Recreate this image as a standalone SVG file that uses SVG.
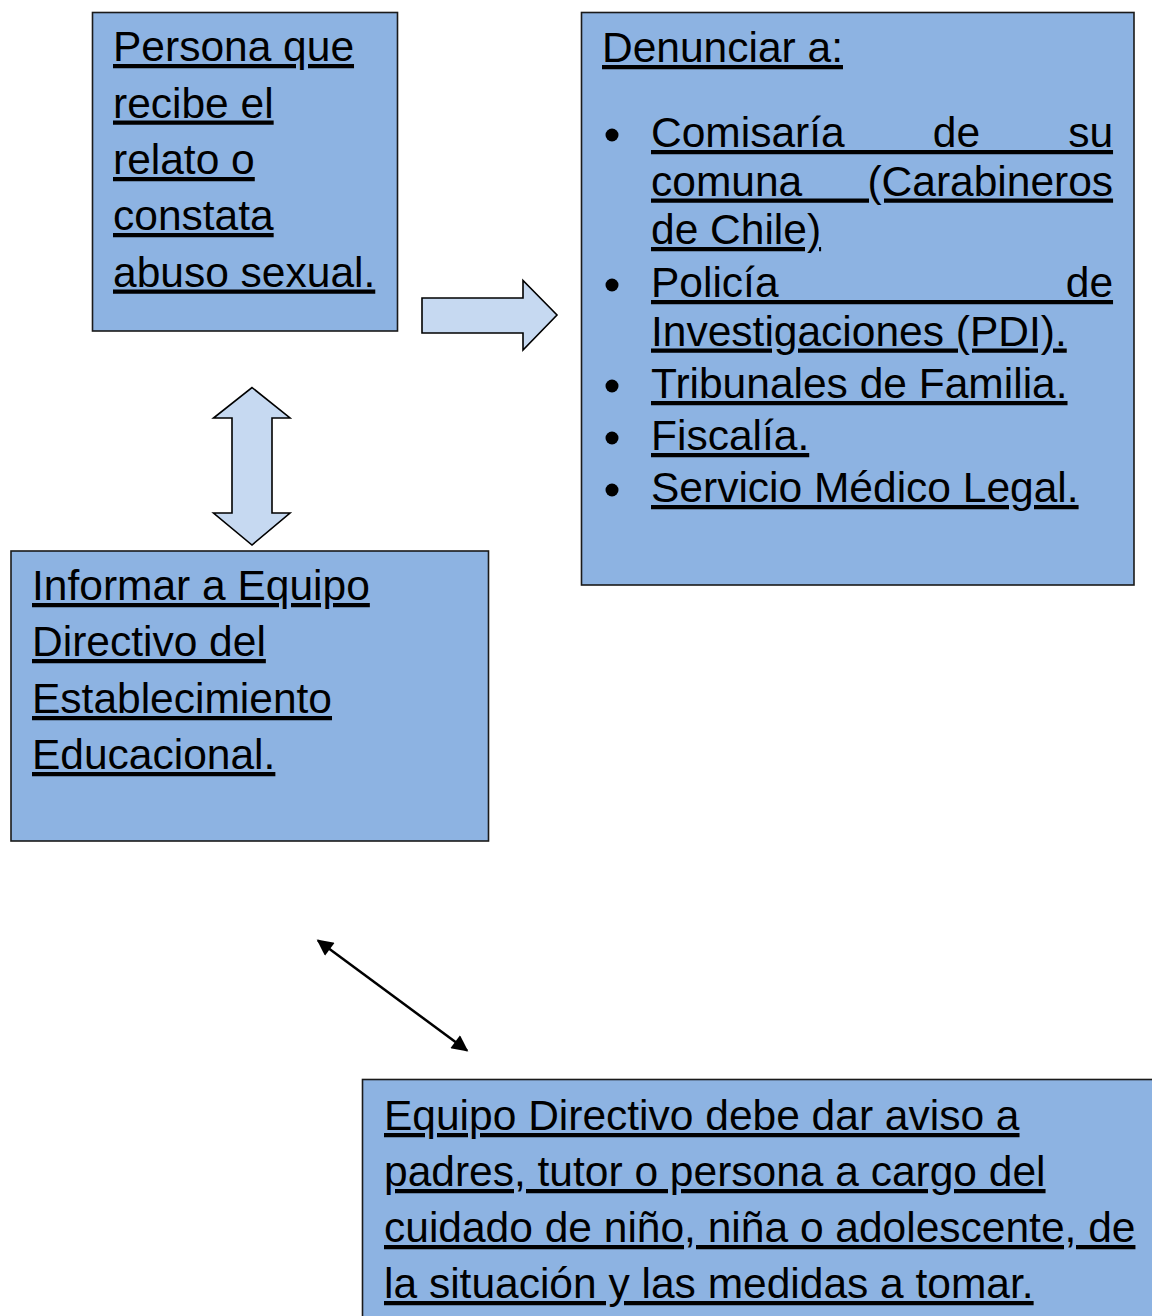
<svg xmlns="http://www.w3.org/2000/svg" width="1152" height="1316" viewBox="0 0 1152 1316">
<style>
  .box { fill: #8DB3E2; stroke: #1a1a1a; stroke-width: 1.6; }
  .t { font-family: "Liberation Sans", Arial, sans-serif; font-size: 42.5px; fill: #000; text-decoration: underline; text-decoration-skip-ink: none; text-decoration-thickness: 3.2px; text-underline-offset: 5px; }
  .blk { fill: #C6D9F1; stroke: #000; stroke-width: 1.6; stroke-linejoin: miter; }
  .ln { stroke: #000; stroke-width: 2.5; fill: none; }
</style>
<defs>
  <marker id="ah" viewBox="0 0 10 10" refX="9" refY="5" markerWidth="8" markerHeight="6.5" orient="auto-start-reverse" markerUnits="strokeWidth">
    <path d="M0,0 L10,5 L0,10 z" fill="#000"/>
  </marker>
</defs>
<rect width="1152" height="1316" fill="#fff"/>

<g id="node-persona">
  <rect class="box" x="92.5" y="12.5" width="305" height="318.5"/>
  <text class="t" x="113" y="61">Persona que</text>
  <text class="t" x="113" y="117.5">recibe el</text>
  <text class="t" x="113" y="174">relato o</text>
  <text class="t" x="113" y="230">constata</text>
  <text class="t" x="113" y="286.5">abuso sexual.</text>
</g>

<g id="node-denunciar">
  <rect class="box" x="581.5" y="12.5" width="552.5" height="572.5"/>
  <text class="t" x="602" y="62">Denunciar a:</text>
  <circle cx="612" cy="135" r="6.5"/>
  <text class="t" x="651" y="147" style="word-spacing:76.3px">Comisaría de su</text>
  <text class="t" x="651" y="195.5" style="word-spacing:53.4px">comuna (Carabineros</text>
  <text class="t" x="651" y="244">de Chile)</text>
  <circle cx="612" cy="285" r="6.5"/>
  <text class="t" x="651" y="297" style="word-spacing:275.4px">Policía de</text>
  <text class="t" x="651" y="345.5">Investigaciones (PDI).</text>
  <circle cx="612" cy="386" r="6.5"/>
  <text class="t" x="651" y="398">Tribunales de Familia.</text>
  <circle cx="612" cy="438" r="6.5"/>
  <text class="t" x="651" y="450">Fiscalía.</text>
  <circle cx="612" cy="490" r="6.5"/>
  <text class="t" x="651" y="502">Servicio Médico Legal.</text>
</g>

<g id="node-informar">
  <rect class="box" x="11" y="551" width="477.5" height="290"/>
  <text class="t" x="32" y="600">Informar a Equipo</text>
  <text class="t" x="32" y="656">Directivo del</text>
  <text class="t" x="32" y="713">Establecimiento</text>
  <text class="t" x="32" y="769">Educacional.</text>
</g>

<g id="node-equipo">
  <rect class="box" x="362.5" y="1079.5" width="800" height="260"/>
  <text class="t" x="384" y="1130">Equipo Directivo debe dar aviso a</text>
  <text class="t" x="384" y="1186">padres, tutor o persona a cargo del</text>
  <text class="t" x="384" y="1242">cuidado de niño, niña o adolescente, de</text>
  <text class="t" x="384" y="1298">la situación y las medidas a tomar.</text>
</g>

<g id="connectors">
  <polygon class="blk" points="422,298 523,298 523,280.5 557,315 523,350 523,333 422,333"/>
  <polygon class="blk" points="252,387.5 290,418 272,418 272,513 290,513 252,545 213.5,513 232,513 232,418 213.5,418"/>
  <line class="ln" x1="318" y1="940.5" x2="467" y2="1050.5" marker-start="url(#ah)" marker-end="url(#ah)"/>
</g>
</svg>
